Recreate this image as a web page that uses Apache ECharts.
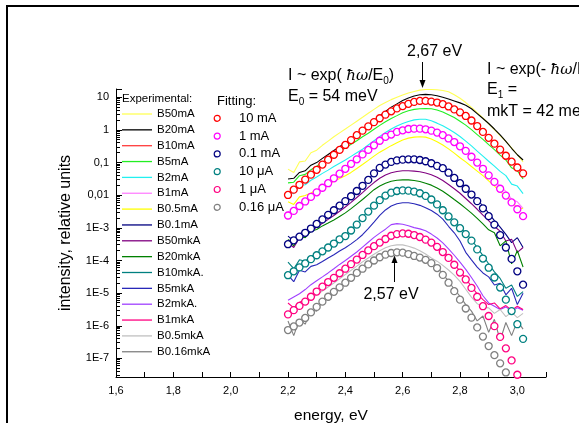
<!DOCTYPE html>
<html><head><meta charset="utf-8">
<script src="https://cdn.jsdelivr.net/npm/echarts@6/dist/echarts.min.js"></script>
<style>html,body{margin:0;padding:0;background:#fff}#c{width:579px;height:423px}</style>
</head><body><div id="c"></div>
<script>
// ---------- data ----------
const energy = [2.20,2.22,2.24,2.26,2.28,2.30,2.32,2.34,2.36,2.38,2.40,2.42,2.44,2.46,2.48,2.50,2.52,2.54,2.56,2.58,2.60,2.62,2.64,2.66,2.68,2.70,2.72,2.74,2.76,2.78,2.80,2.82,2.84,2.86,2.88,2.90,2.92,2.94,2.96,2.98,3.00,3.02];

const B50mA = [6.31e-2,5.01e-2,1.05e-1,1.12e-1,2.00e-1,2.40e-1,3.39e-1,4.57e-1,6.17e-1,8.13e-1,1.07,1.41,1.86,2.45,3.24,4.27,5.62,6.92,8.51,10.0,11.7,13.5,15.1,16.6,17.4,17.4,17.0,16.2,14.8,12.0,9.33,6.92,4.90,3.39,2.34,1.55,1.02,6.76e-1,4.47e-1,2.82e-1,1.74e-1,1.05e-1];
const B20mA = [3.16e-2,3.31e-2,5.01e-2,5.62e-2,8.32e-2,1.00e-1,1.35e-1,1.78e-1,2.34e-1,3.09e-1,4.07e-1,5.50e-1,7.41e-1,1.00,1.38,1.91,2.69,3.72,5.01,6.31,7.94,9.55,11.0,12.0,12.3,12.0,11.2,10.0,8.91,7.76,6.76,5.75,4.47,3.16,2.24,1.58,1.07,7.08e-1,4.47e-1,2.75e-1,1.74e-1,1.20e-1];
const B10mA = [1.26e-2,1.41e-2,2.40e-2,2.82e-2,4.68e-2,6.46e-2,9.33e-2,1.32e-1,1.86e-1,2.63e-1,3.72e-1,5.25e-1,7.41e-1,1.02,1.38,1.86,2.45,3.16,3.98,4.90,5.75,6.76,7.59,8.13,8.13,7.76,7.24,6.46,5.50,4.47,3.63,2.82,2.04,1.38,9.12e-1,6.03e-1,3.98e-1,2.63e-1,1.82e-1,1.12e-1,8.32e-2,5.25e-2];
const B5mA = [2.40e-2,2.51e-2,3.98e-2,4.37e-2,6.03e-2,7.76e-2,1.02e-1,1.32e-1,1.70e-1,2.19e-1,2.82e-1,3.63e-1,4.68e-1,6.17e-1,7.94e-1,1.05,1.38,1.78,2.24,2.75,3.39,3.89,4.27,4.47,4.57,4.47,4.07,3.55,2.95,2.40,1.86,1.41,1.02,7.24e-1,5.13e-1,3.55e-1,2.51e-1,1.70e-1,1.20e-1,6.92e-2,5.62e-2,3.16e-2];
const B2mA = [1.32e-2,1.12e-2,2.00e-2,2.09e-2,2.88e-2,3.63e-2,4.68e-2,5.89e-2,7.59e-2,9.55e-2,1.20e-1,1.55e-1,2.00e-1,2.57e-1,3.47e-1,4.68e-1,6.31e-1,8.32e-1,1.07,1.32,1.58,1.82,2.04,2.14,2.14,1.91,1.62,1.35,1.07,8.32e-1,6.31e-1,4.57e-1,3.24e-1,2.24e-1,1.58e-1,1.10e-1,7.76e-2,5.37e-2,3.98e-2,2.19e-2,1.91e-2,1.12e-2];
const B1mA = [3.16e-3,2.82e-3,5.25e-3,6.31e-3,9.55e-3,1.32e-2,1.82e-2,2.51e-2,3.55e-2,4.90e-2,6.92e-2,9.77e-2,1.35e-1,1.91e-1,2.63e-1,3.63e-1,5.01e-1,6.61e-1,7.76e-1,9.33e-1,1.05,1.15,1.17,1.17,1.12,1.02,8.91e-1,7.41e-1,5.89e-1,4.57e-1,3.39e-1,2.45e-1,1.62e-1,1.07e-1,6.92e-2,4.47e-2,2.88e-2,1.91e-2,1.32e-2,7.59e-3,6.31e-3,3.98e-3];
const B0_5mA = [6.31e-3,5.25e-3,8.91e-3,9.77e-3,1.17e-2,1.45e-2,1.78e-2,2.19e-2,2.69e-2,3.24e-2,3.98e-2,5.01e-2,6.61e-2,8.71e-2,1.17e-1,1.58e-1,2.09e-1,2.63e-1,3.31e-1,4.07e-1,4.90e-1,5.62e-1,6.03e-1,6.17e-1,6.03e-1,5.25e-1,4.37e-1,3.47e-1,2.63e-1,1.95e-1,1.41e-1,1.05e-1,7.59e-2,5.50e-2,3.98e-2,2.75e-2,1.91e-2,1.32e-2,9.12e-3,7.08e-3,3.80e-3,3.98e-3];
const B0_1mA = [5.62e-4,3.98e-4,6.61e-4,7.59e-4,1.05e-3,1.38e-3,1.91e-3,2.63e-3,3.63e-3,5.01e-3,6.92e-3,9.77e-3,1.41e-2,2.04e-2,3.09e-2,4.79e-2,7.08e-2,9.12e-2,1.07e-1,1.20e-1,1.26e-1,1.29e-1,1.29e-1,1.23e-1,1.12e-1,9.77e-2,8.13e-2,6.92e-2,5.13e-2,3.63e-2,2.51e-2,1.70e-2,1.12e-2,7.41e-3,4.68e-3,2.82e-3,1.66e-3,1.05e-3,6.31e-4,3.55e-4,5.01e-4,2.51e-4];
const B50mkA = [3.55e-4,2.51e-4,5.01e-4,5.25e-4,7.94e-4,1.05e-3,1.38e-3,1.82e-3,2.40e-3,3.24e-3,4.37e-3,6.03e-3,8.51e-3,1.20e-2,1.74e-2,2.45e-2,3.31e-2,4.17e-2,4.90e-2,5.37e-2,5.62e-2,5.62e-2,5.50e-2,5.25e-2,4.79e-2,4.27e-2,3.55e-2,2.82e-2,2.14e-2,1.58e-2,1.15e-2,7.94e-3,5.50e-3,3.72e-3,2.45e-3,1.66e-3,1.10e-3,7.94e-4,3.98e-4,4.47e-4,1.78e-4,2.51e-4];
const B20mkA = [4.47e-4,2.82e-4,5.62e-4,5.01e-4,7.94e-4,8.91e-4,1.15e-3,1.41e-3,1.74e-3,2.24e-3,2.88e-3,3.89e-3,5.37e-3,7.41e-3,1.05e-2,1.48e-2,1.91e-2,2.34e-2,2.69e-2,2.88e-2,2.95e-2,2.95e-2,2.82e-2,2.63e-2,2.34e-2,2.04e-2,1.66e-2,1.32e-2,1.00e-2,7.41e-3,5.50e-3,3.98e-3,2.82e-3,1.95e-3,1.32e-3,8.71e-4,7.08e-4,2.82e-4,3.98e-4,7.94e-5,2.00e-4,6.31e-5];
const B10mkA = [8.91e-5,5.62e-5,1.05e-4,9.55e-5,1.32e-4,1.58e-4,2.04e-4,2.69e-4,3.55e-4,4.79e-4,6.03e-4,8.91e-4,1.35e-3,2.14e-3,3.39e-3,5.13e-3,7.59e-3,1.05e-2,1.29e-2,1.45e-2,1.51e-2,1.48e-2,1.38e-2,1.23e-2,1.02e-2,7.94e-3,5.62e-3,3.72e-3,2.40e-3,1.58e-3,1.05e-3,6.92e-4,4.37e-4,2.51e-4,1.41e-4,7.94e-5,4.47e-5,2.82e-5,1.41e-5,1.78e-5,7.94e-6,1.12e-5];
const B5mkA = [3.55e-5,2.24e-5,5.01e-5,4.47e-5,6.61e-5,7.41e-5,9.33e-5,1.20e-4,1.51e-4,1.95e-4,2.45e-4,3.24e-4,4.37e-4,6.17e-4,9.55e-4,1.51e-3,2.40e-3,3.55e-3,4.68e-3,5.50e-3,5.89e-3,5.89e-3,5.50e-3,4.90e-3,4.17e-3,3.39e-3,2.63e-3,1.86e-3,1.12e-3,7.08e-4,3.98e-4,1.78e-4,1.05e-4,6.31e-5,4.17e-5,3.16e-5,1.78e-5,2.00e-5,8.91e-6,1.41e-5,4.47e-6,1.00e-5];
const B2mkA = [6.03e-6,7.59e-6,9.55e-6,1.29e-5,1.82e-5,2.40e-5,3.16e-5,4.17e-5,5.62e-5,7.59e-5,1.00e-4,1.35e-4,1.82e-4,2.57e-4,3.63e-4,5.13e-4,6.92e-4,9.12e-4,1.26e-3,1.35e-3,1.29e-3,1.17e-3,1.02e-3,9.33e-4,8.13e-4,6.46e-4,4.90e-4,3.47e-4,2.29e-4,1.45e-4,8.91e-5,5.37e-5,3.02e-5,1.66e-5,8.32e-6,5.01e-6,3.98e-6,3.16e-6,3.80e-6,2.82e-6,3.55e-6,3.02e-6];
const B1mkA = [5.01e-6,3.55e-6,5.25e-6,6.31e-6,8.32e-6,1.20e-5,1.70e-5,2.34e-5,3.16e-5,4.37e-5,6.03e-5,8.32e-5,1.15e-4,1.58e-4,2.19e-4,2.95e-4,3.80e-4,4.90e-4,6.17e-4,6.92e-4,7.24e-4,7.08e-4,6.46e-4,5.62e-4,4.68e-4,3.80e-4,2.82e-4,1.95e-4,1.29e-4,7.94e-5,4.68e-5,2.82e-5,1.58e-5,9.55e-6,6.31e-6,4.47e-6,5.01e-6,3.31e-6,4.17e-6,3.02e-6,3.98e-6,3.16e-6];
const B0_5mkA = [2.82e-6,2.40e-6,3.89e-6,5.13e-6,6.76e-6,8.91e-6,1.17e-5,1.55e-5,2.04e-5,2.75e-5,3.72e-5,5.01e-5,6.76e-5,9.12e-5,1.20e-4,1.55e-4,2.00e-4,2.45e-4,2.82e-4,3.02e-4,3.02e-4,2.75e-4,2.40e-4,2.00e-4,1.58e-4,1.20e-4,9.55e-5,7.08e-5,5.13e-5,3.55e-5,2.29e-5,1.32e-5,7.59e-6,4.79e-6,3.72e-6,3.55e-6,2.40e-6,3.16e-6,1.91e-6,2.63e-6,1.78e-6,2.40e-6];
const B0_16mkA = [1.41e-6,5.01e-7,1.58e-6,1.12e-6,3.16e-6,2.82e-6,5.75e-6,8.32e-6,1.17e-5,1.62e-5,2.24e-5,3.16e-5,4.47e-5,6.03e-5,8.13e-5,1.07e-4,1.35e-4,1.62e-4,1.82e-4,1.91e-4,1.86e-4,1.70e-4,1.48e-4,1.32e-4,1.12e-4,8.91e-5,6.31e-5,3.89e-5,2.29e-5,1.32e-5,7.94e-6,4.47e-6,2.82e-6,1.41e-6,2.00e-6,6.31e-7,1.58e-6,3.55e-7,1.26e-6,5.01e-7,1.41e-6,7.94e-7];

const fit10mA = [1.02e-2,1.48e-2,2.09e-2,3.02e-2,4.27e-2,6.03e-2,8.71e-2,1.23e-1,1.74e-1,2.45e-1,3.47e-1,4.90e-1,6.92e-1,9.55e-1,1.29,1.74,2.29,2.95,3.72,4.57,5.37,6.31,7.24,7.76,7.76,7.41,6.92,6.17,5.25,4.27,3.47,2.69,1.95,1.32,8.71e-1,5.75e-1,3.80e-1,2.51e-1,1.62e-1,1.07e-1,7.08e-2,4.68e-2];
const fit1mA = [2.40e-3,3.31e-3,4.68e-3,6.46e-3,8.91e-3,1.23e-2,1.70e-2,2.34e-2,3.31e-2,4.57e-2,6.46e-2,9.12e-2,1.26e-1,1.78e-1,2.45e-1,3.39e-1,4.68e-1,6.17e-1,7.24e-1,8.71e-1,9.77e-1,1.07,1.10,1.10,1.05,9.55e-1,8.32e-1,6.92e-1,5.50e-1,4.27e-1,3.16e-1,2.29e-1,1.51e-1,1.00e-1,6.46e-2,4.07e-2,2.57e-2,1.58e-2,9.77e-3,6.03e-3,3.72e-3,2.29e-3];
const fit0_1mA = [3.16e-4,4.17e-4,5.37e-4,7.08e-4,9.55e-4,1.32e-3,1.82e-3,2.51e-3,3.47e-3,4.79e-3,6.61e-3,9.33e-3,1.35e-2,1.95e-2,2.95e-2,4.68e-2,6.92e-2,8.71e-2,1.05e-1,1.17e-1,1.23e-1,1.26e-1,1.26e-1,1.20e-1,1.10e-1,9.55e-2,7.94e-2,6.76e-2,4.90e-2,3.39e-2,2.34e-2,1.58e-2,1.05e-2,6.61e-3,3.98e-3,2.29e-3,1.26e-3,6.03e-4,2.51e-4,1.12e-4,4.68e-5,1.82e-5];
const fit10uA = [3.55e-5,4.68e-5,6.17e-5,8.13e-5,1.10e-4,1.45e-4,1.91e-4,2.51e-4,3.31e-4,4.47e-4,5.62e-4,8.32e-4,1.26e-3,2.00e-3,3.16e-3,4.79e-3,7.08e-3,9.77e-3,1.20e-2,1.35e-2,1.41e-2,1.38e-2,1.29e-2,1.15e-2,9.55e-3,7.41e-3,5.25e-3,3.47e-3,2.24e-3,1.48e-3,9.77e-4,6.46e-4,4.07e-4,2.19e-4,1.15e-4,6.03e-5,3.02e-5,1.48e-5,6.31e-6,2.82e-6,1.12e-6,3.98e-7];
const fit1uA = [2.24e-6,3.02e-6,4.07e-6,5.50e-6,7.76e-6,1.12e-5,1.58e-5,2.19e-5,2.95e-5,4.07e-5,5.62e-5,7.76e-5,1.07e-4,1.48e-4,2.04e-4,2.75e-4,3.55e-4,4.57e-4,5.75e-4,6.46e-4,6.76e-4,6.61e-4,6.03e-4,5.25e-4,4.37e-4,3.55e-4,2.63e-4,1.82e-4,1.20e-4,7.41e-5,4.27e-5,2.63e-5,1.45e-5,7.76e-6,3.98e-6,2.00e-6,9.77e-7,4.57e-7,2.04e-7,8.71e-8,3.16e-8];
const fit0_16uA = [7.41e-7,9.55e-7,1.26e-6,1.74e-6,2.57e-6,3.80e-6,5.50e-6,7.76e-6,1.10e-5,1.51e-5,2.09e-5,2.95e-5,4.17e-5,5.62e-5,7.59e-5,1.00e-4,1.26e-4,1.51e-4,1.70e-4,1.78e-4,1.74e-4,1.58e-4,1.38e-4,1.23e-4,1.05e-4,8.32e-5,5.89e-5,3.63e-5,2.09e-5,1.15e-5,6.31e-6,3.39e-6,1.78e-6,8.91e-7,4.68e-7,2.40e-7,1.26e-7,7.08e-8,3.72e-8];

const expNames = ['B50mA','B20mA','B10mA','B5mA','B2mA','B1mA','B0.5mA','B0.1mA','B50mkA','B20mkA','B10mkA.','B5mkA','B2mkA.','B1mkA','B0.5mkA','B0.16mkA'];
const expData = [B50mA,B20mA,B10mA,B5mA,B2mA,B1mA,B0_5mA,B0_1mA,B50mkA,B20mkA,B10mkA,B5mkA,B2mkA,B1mkA,B0_5mkA,B0_16mkA];
const expColors = ['#ffff55','#000000','#ff3b3b','#22ee22','#22f0f0','#ff80ff','#ffff00','#000080','#800080','#008000','#008080','#2828b8','#a040ff','#ff0080','#c0c0c0','#808080'];

const fitNames = ['10 mA','1 mA','0.1 mA','10 \u03bcA','1 \u03bcA','0.16 \u03bcA'];
const fitData = [fit10mA,fit1mA,fit0_1mA,fit10uA,fit1uA,fit0_16uA];
const fitColors = ['#ff0000','#ff00ff','#000080','#008080','#ff0080','#808080'];

const yTickLabels = {'1':'10','0':'1','-1':'0,1','-2':'0,01','-3':'1E-3','-4':'1E-4','-5':'1E-5','-6':'1E-6','-7':'1E-7'};
const Y_MIN = 2.7e-8, Y_MAX = 18;

// ---------- chart ----------
const FONT = '"Liberation Sans", Arial, Helvetica, sans-serif';
const chart = echarts.init(document.getElementById('c'), null, {renderer:'canvas', width:579, height:423});

function fmtY(v){ const e = Math.log10(v); const n = Math.round(e); if (Math.abs(e-n) > 1e-6) return ''; return yTickLabels[String(n)] || ''; }
function fmtX(v){ const k = Math.round(v*10); return k % 2 === 0 ? (k/10).toFixed(1).replace('.', ',') : ''; }

const series = [];
expNames.forEach((nm, j) => {
  series.push({type:'line', name:nm, data: energy.map((x,i) => [x, expData[j][i]]),
    symbol:'none', showSymbol:false, color:expColors[j], lineStyle:{width:1.1, color:expColors[j]},
    z:2, silent:true, animation:false, clip:true});
});
fitNames.forEach((nm, j) => {
  series.push({type:'scatter', name:nm, data: fitData[j].map((v,i) => [energy[i], v]),
    symbol:'circle', symbolSize:7, color:fitColors[j],
    itemStyle:{color:'#fff', borderColor:fitColors[j], borderWidth:1.3, opacity:1},
    z:3, silent:true, animation:false, clip:false});
});

chart.setOption({
  backgroundColor:'#fff',
  animation:false,
  grid:{left:116, right:33, top:89, bottom:46, containLabel:false, outerBoundsMode:'none'},
  xAxis:{type:'value', min:1.6, max:3.1, interval:0.1,
    axisLine:{onZero:false, lineStyle:{color:'#000', width:1}},
    axisTick:{inside:true, length:5, lineStyle:{color:'#000'}},
    splitLine:{show:false},
    axisLabel:{formatter:fmtX, fontSize:11, color:'#000', margin:8, fontFamily:FONT},
    name:'energy, eV', nameLocation:'middle', nameGap:31, nameMoveOverlap:false,
    nameTextStyle:{fontSize:15.5, color:'#000', fontFamily:FONT}},
  yAxis:{type:'log', logBase:10, min:Y_MIN, max:Y_MAX,
    axisLine:{show:true, lineStyle:{color:'#000', width:1}},
    axisTick:{show:true, inside:true, length:6, lineStyle:{color:'#000'}},
    minorTick:{show:false}, splitLine:{show:false},
    axisLabel:{formatter:fmtY, fontSize:11, color:'#000', margin:7, fontFamily:FONT},
    name:'intensity, relative units', nameLocation:'middle', nameGap:42, nameMoveOverlap:false,
    nameTextStyle:{fontSize:16, color:'#000', fontFamily:FONT}},
  legend:[
    {data:expNames, orient:'vertical', left:122, top:108, padding:0, itemWidth:30, itemHeight:1.3, itemGap:3.85,
     icon:'rect', selectedMode:false, textStyle:{fontSize:11.5, lineHeight:12, color:'#000', fontFamily:FONT}},
    {data:fitNames, orient:'vertical', left:213.6, top:111.3, padding:0, itemWidth:33.4, itemHeight:6, itemGap:3.8,
     selectedMode:false, itemStyle:{borderWidth:1.2},
     textStyle:{fontSize:13, lineHeight:14, color:'#000', fontFamily:FONT}}
  ],
  series: series
});

// ---------- annotations (positions from the chart's own scales) ----------
const px = x => chart.convertToPixel({xAxisIndex:0}, x);
const py = y => chart.convertToPixel({yAxisIndex:0}, y);
const snap = v => Math.round(v - 0.5) + 0.5;
const g = [];
const x0 = snap(px(1.6));
for (let n = -8; n <= 1; n++) {
  for (let m = 2; m <= 9; m++) {
    const v = m * Math.pow(10, n);
    if (v <= Y_MIN || v >= Y_MAX) continue;
    const y = snap(py(v));
    g.push({type:'line', silent:true, shape:{x1:x0, y1:y, x2:x0+3.5, y2:y}, style:{stroke:'#000', lineWidth:1}});
  }
}
const xa = snap(px(2.67)), xb = snap(px(2.57));
g.push({type:'line', silent:true, shape:{x1:xa, y1:62, x2:xa, y2:81}, style:{stroke:'#000', lineWidth:1}});
g.push({type:'polygon', silent:true, shape:{points:[[xa-3,80],[xa+3,80],[xa,88]]}, style:{fill:'#000'}});
g.push({type:'line', silent:true, shape:{x1:xb, y1:263, x2:xb, y2:282}, style:{stroke:'#000', lineWidth:1}});
g.push({type:'polygon', silent:true, shape:{points:[[xb-3,263],[xb+3,263],[xb,255.5]]}, style:{fill:'#000'}});

const rich = {
  h:{fontFamily:'"DejaVu Serif", serif', fontStyle:'italic', fontSize:15, lineHeight:20},
  s:{fontSize:10, fontFamily:FONT, verticalAlign:'bottom', lineHeight:20}
};
function txt(x, y, text, size, align) {
  g.push({type:'text', silent:true, x:x, y:y, z:50,
    style:{text:text, fontSize:size, fontFamily:FONT, fill:'#000', align:align||'left', verticalAlign:'middle', lineHeight:20, rich:rich}});
}
txt(407, 52, '2,67 eV', 16);
txt(288, 76, 'I ~ exp( {h|\u0127\u03c9}/E{s|0})', 16);
txt(288, 97, 'E{s|0} = 54 meV', 16);
txt(487, 70, 'I ~ exp(- {h|\u0127\u03c9}/E{s|1})', 16);
txt(487, 90, 'E{s|1} =', 16);
txt(487, 112, 'mkT = 42 meV', 16);
txt(391, 295, '2,57 eV', 16, 'center');
txt(122, 99, 'Experimental:', 11.5);
txt(217, 101, 'Fitting:', 13);
g.push({type:'rect', silent:true, z:100, shape:{x:7, y:6, width:620, height:460}, style:{fill:'none', stroke:'#000', lineWidth:2}});

chart.setOption({graphic:{elements:g}});
</script>
</body></html>
